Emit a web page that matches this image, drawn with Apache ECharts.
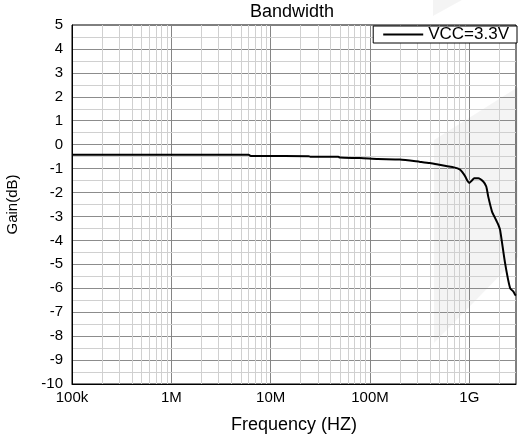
<!DOCTYPE html>
<html>
<head>
<meta charset="utf-8">
<script src="https://cdn.jsdelivr.net/npm/echarts@6/dist/echarts.min.js"></script>
<style>
  html, body { margin: 0; padding: 0; background: #fff; }
  #chart { width: 518px; height: 438px; }
</style>
</head>
<body>
<div id="chart"></div>
<script>
// measured response, frequency in Hz and gain in dB
const freqHz = [1e5, 6.0e6, 6.3e6, 2.4e7, 2.5e7, 4.8e7, 5e7, 8e7, 1.2e8, 2e8, 3.2e8, 4e8, 5e8, 6e8, 7e8, 8e8,
  8.5e8, 9.1e8, 9.6e8, 1.0e9, 1.06e9, 1.12e9, 1.23e9, 1.38e9, 1.48e9, 1.55e9, 1.69e9, 1.75e9, 1.89e9,
  1.96e9, 2.04e9, 2.29e9, 2.57e9, 2.78e9, 2.89e9, 2.95e9];
const gainDb = [-0.42, -0.42, -0.47, -0.48, -0.5, -0.51, -0.54, -0.56, -0.6, -0.62, -0.72, -0.77, -0.84, -0.9, -0.95, -1.03,
  -1.15, -1.33, -1.52, -1.6, -1.5, -1.4, -1.4, -1.54, -1.75, -2.17, -2.79, -2.93, -3.21,
  -3.35, -3.56, -4.95, -5.99, -6.14, -6.27, -6.3];

const seriesName = 'VCC=3.3V';
const decadeHz = [1e5, 1e6, 1e7, 1e8, 1e9];
const xTickLabels = ['100k', '1M', '10M', '100M', '1G'];
const minorSteps = [2, 3, 4, 5, 6, 7, 8, 9];
const gainTicks = [-10, -9, -8, -7, -6, -5, -4, -3, -2, -1, 0, 1, 2, 3, 4];
const xMax = 2.95e9;

// light grid lines between decades and between whole dB steps
const minorHz = [];
decadeHz.forEach(d => minorSteps.forEach(m => { if (d * m < xMax) minorHz.push(d * m); }));
const halfDb = gainTicks.map(g => g + 0.5);

const chart = echarts.init(document.getElementById('chart'));

chart.setOption({
  animation: false,
  backgroundColor: '#fff',
  textStyle: { fontFamily: 'Liberation Sans, Arial, sans-serif', color: '#000' },
  title: {
    text: 'Bandwidth',
    left: 250,
    top: 3,
    padding: 0,
    textStyle: { fontSize: 18, fontWeight: 'normal', color: '#000' }
  },
  legend: {
    data: [{ name: seriesName, icon: 'rect' }],
    right: 1,
    top: 26,
    z: 20,
    padding: [0, 8, 0, 10],
    backgroundColor: '#fff',
    borderColor: '#000',
    borderWidth: 1,
    borderRadius: 0,
    itemWidth: 40,
    itemHeight: 2,
    itemGap: 4,
    itemStyle: { color: '#000' },
    textStyle: { fontSize: 17, color: '#000', lineHeight: 17 }
  },
  graphic: [
    {
      type: 'polygon', z: 0, silent: true,
      shape: { points: [[434, 140], [518, 87], [518, 257], [434, 343]] },
      style: { fill: 'rgba(0,0,0,0.045)' }
    },
    {
      type: 'polygon', z: 0, silent: true,
      shape: { points: [[433, 0], [462, 0], [433, 16]] },
      style: { fill: 'rgba(0,0,0,0.045)' }
    }
  ],
  grid: {
    left: 72,
    right: 2,
    top: 25,
    bottom: 54,
    outerBoundsMode: 'none',
    containLabel: false,
    show: true,
    borderColor: '#000',
    borderWidth: 1,
    backgroundColor: 'transparent'
  },
  xAxis: {
    type: 'log',
    logBase: 10,
    min: 1e5,
    max: xMax,
    name: 'Frequency (HZ)',
    nameLocation: 'middle',
    nameGap: 32,
    nameTextStyle: { fontSize: 18, color: '#000' },
    axisLine: { show: true, onZero: false, lineStyle: { color: '#000', width: 1 } },
    axisTick: { show: false },
    axisLabel: {
      margin: 6,
      fontSize: 15,
      color: '#000',
      formatter: v => {
        const i = decadeHz.findIndex(d => Math.abs(v / d - 1) < 1e-6);
        return i >= 0 ? xTickLabels[i] : '';
      }
    },
    splitLine: {
      show: true,
      showMinLine: false,
      showMaxLine: false,
      lineStyle: { color: '#858585', width: 1 }
    }
  },
  yAxis: {
    type: 'value',
    min: -10,
    max: 5,
    interval: 1,
    name: 'Gain(dB)',
    nameLocation: 'middle',
    nameGap: 52,
    nameTextStyle: { fontSize: 15, color: '#000' },
    axisLine: { show: true, onZero: false, lineStyle: { color: '#000', width: 1 } },
    axisTick: { show: false },
    axisLabel: { margin: 9, fontSize: 15, color: '#000' },
    splitLine: {
      show: true,
      showMinLine: false,
      showMaxLine: false,
      lineStyle: { color: '#8c8c8c', width: 1 }
    }
  },
  series: [
    {
      name: 'minor-grid',
      type: 'line',
      data: [],
      z: 0,
      silent: true,
      markLine: {
        z: 0,
        silent: true,
        symbol: 'none',
        label: { show: false },
        animation: false,
        lineStyle: { color: '#d0d0d0', type: 'solid', width: 1 },
        data: minorHz.map(f => ({ xAxis: f })).concat(halfDb.map(g => ({ yAxis: g })))
      }
    },
    {
      name: seriesName,
      type: 'line',
      z: 10,
      symbol: 'none',
      smooth: 0.2,
      lineStyle: { color: '#000', width: 2 },
      itemStyle: { color: '#000' },
      data: freqHz.map((f, i) => [f, gainDb[i]])
    }
  ]
});
</script>
</body>
</html>
